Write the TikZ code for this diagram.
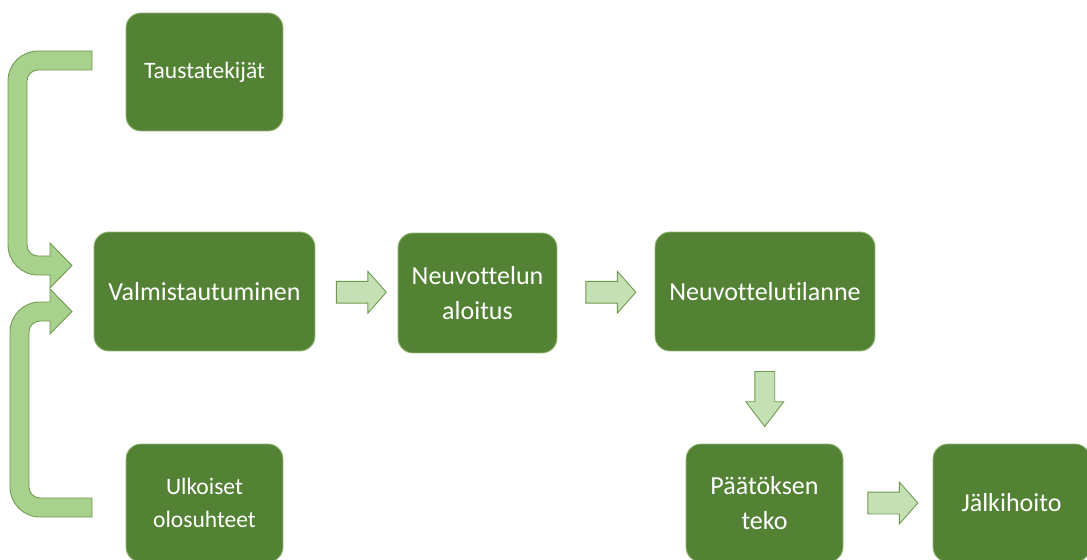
\documentclass[tikz,border=0pt]{standalone}
\usepackage{fontspec}
\setmainfont{Carlito}[Ligatures=NoCommon]
\usetikzlibrary{shapes.arrows}
\definecolor{boxgreen}{HTML}{548235}
\definecolor{boxedge}{HTML}{8FB573}
\definecolor{arrowfill}{HTML}{C5E0B4}
\definecolor{arrowedge}{HTML}{6E9A4E}
\definecolor{bendfill}{HTML}{A9D18E}
\begin{document}
\begin{tikzpicture}[x=0.02cm,y=-0.02cm,
    box/.style={rectangle,rounded corners=0.3cm,draw=boxedge,line width=0.5pt,fill=boxgreen,text=white,align=center,minimum height=2.38cm,font=\fontsize{14.8}{19.8}\selectfont},
    smallbox/.style={box,minimum width=3.14cm,minimum height=2.36cm,font=\fontsize{13.4}{18.8}\selectfont},
    rarrow/.style={single arrow,draw=arrowedge,fill=arrowfill,line width=0.5pt,minimum height=1cm,minimum width=0.82cm,inner xsep=0pt,inner ysep=0.21cm,single arrow head extend=0.2cm,single arrow tip angle=97},
    bentarrow/.style={draw=arrowedge,fill=bendfill,line width=0.5pt}]
            \useasboundingbox (0,0) rectangle (1087,560);
            \clip (0,0) rectangle (1087,560);
            % Left column
            \node[smallbox] (node1) at (204.5,72) {Taustatekijät};
            \node[box,minimum width=4.42cm] (node2) at (204.5,291.5) {Valmistautuminen};
            \node[smallbox] (node3) at (204.5,503) {Ulkoiset\\olosuhteet};
            % Middle row
            \node[box,minimum width=3.18cm,minimum height=2.4cm] (node4) at (477.5,293) {Neuvottelun\\aloitus};
            \node[box,minimum width=4.4cm] (node5) at (765,291.5) {Neuvottelutilanne};
            % Bottom row
            \node[box,minimum width=3.14cm,minimum height=2.36cm] (node6) at (764.5,503) {Päätöksen\\teko};
            \node[box,minimum width=3.14cm,minimum height=2.36cm] (node7) at (1011.5,503) {Jälkihoito};
            % Block arrows
            \path (node2.east) -- node[rarrow] (arrow1) {} (node4.west);
            \path (node4.east) -- node[rarrow] (arrow2) {} (node5.west);
            \path (node5.south) -- node[rarrow,shape border rotate=270,minimum height=1.1cm,minimum width=0.74cm,inner xsep=0.19cm,inner ysep=0pt,single arrow head extend=0.18cm,single arrow tip angle=75,yshift=0.1cm] (arrow3) {} (node6.north);
            \path (node6.east) -- node[rarrow] (arrow4) {} (node7.west);
            % Bent arrows
            \draw[bentarrow] (92,51) -- (38,51) arc[start angle=270,end angle=180,radius=30] -- (8,245) arc[start angle=180,end angle=90,radius=30] -- (50,275) -- (50,288) -- (72,265.5) -- (50,243) -- (50,256) -- (38,256) arc[start angle=90,end angle=180,radius=11] -- (27,81) arc[start angle=180,end angle=270,radius=11] -- (92,70) -- cycle;
            \draw[bentarrow] (50,302) -- (40,302) arc[start angle=270,end angle=180,radius=30] -- (10,487) arc[start angle=180,end angle=90,radius=30] -- (92,517) -- (92,498) -- (40,498) arc[start angle=90,end angle=180,radius=11] -- (29,332) arc[start angle=180,end angle=270,radius=11] -- (50,321) -- (50,334) -- (72,311.5) -- (50,289) -- cycle;
\end{tikzpicture}
\end{document}
